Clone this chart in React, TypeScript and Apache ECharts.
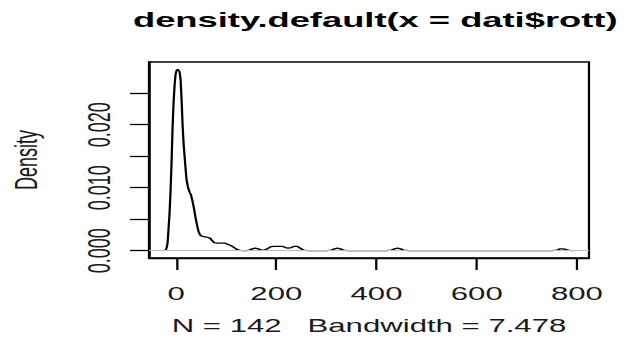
import React, { useEffect, useRef } from "react";
import * as echarts from "echarts";

// Kernel density estimate of dati$rott (N = 142, bw = 7.478)
const xs: number[] = [
  -21.5, -19, -17, -15, -13, -11, -9, -7, -5, -3, -1, 1, 3, 5, 7, 9, 11, 13, 15, 17, 19, 21,
  24, 27, 30, 33, 36, 39, 42, 45, 48, 52, 58, 64, 68, 72, 76, 82, 90, 98, 104, 110, 116, 122,
  128, 134, 140, 146, 152, 158, 164, 170, 176, 182, 188, 194, 200, 206, 212, 218, 224, 230,
  236, 242, 248, 254, 262, 300, 310, 316, 322, 328, 334, 342, 420, 430, 436, 442, 448, 454,
  464, 750, 760, 766, 772, 778, 784, 791.5,
];
const density: number[] = [
  0.00002, 0.0004, 0.0012, 0.0035, 0.006, 0.0095, 0.014, 0.0195, 0.0235, 0.0262, 0.028,
  0.0286, 0.0288, 0.0288, 0.0284, 0.0272, 0.024, 0.02, 0.017, 0.015, 0.013, 0.0112, 0.01,
  0.0093, 0.0088, 0.0078, 0.0066, 0.0052, 0.004, 0.003, 0.0025, 0.0023, 0.0022, 0.0021,
  0.002, 0.0016, 0.0013, 0.0012, 0.0012, 0.0012, 0.001, 0.0008, 0.0005, 0.0002, 0.00005,
  0.00001, 0.00002, 0.0001, 0.0003, 0.0004, 0.0003, 0.0001, 0.00008, 0.0003, 0.0006, 0.0007,
  0.0007, 0.0007, 0.0007, 0.0005, 0.0004, 0.0005, 0.0007, 0.0007, 0.0004, 0.0001, 0.00001,
  0.00001, 0.0001, 0.0003, 0.0004, 0.0003, 0.0001, 0.00001, 0.00001, 0.0001, 0.0003, 0.0004,
  0.0003, 0.0001, 0.00001, 0.00001, 0.0001, 0.0003, 0.0003, 0.0002, 0.00005, 0.00001,
];
const xTicks: number[] = [0, 200, 400, 600, 800];
const yTicks: number[] = [0, 0.005, 0.01, 0.015, 0.02, 0.025];
const yLabels: number[] = [0, 0.01, 0.02];

const titleText = "density.default(x = dati$rott)";
const xAxisTitle = "N = 142   Bandwidth = 7.478";
const yAxisTitle = "Density";

const WIDTH = 626;
const HEIGHT = 347;
const STRETCH = 1.73;
const INNER_W = WIDTH / STRETCH;
const FONT = "'Liberation Sans', Arial, Helvetica, sans-serif";
const TEXT_COLOR = "#1a1a1a";

export default function App() {
  const ref = useRef<HTMLDivElement>(null);

  useEffect(() => {
    if (!ref.current) return;
    const chart = echarts.init(ref.current, null, { renderer: "svg" });

    // R-style 4% padding around the data range
    const xPad = 0.04 * (xs[xs.length - 1] - xs[0]);
    const yMax = Math.max(...density);
    const yPad = 0.04 * yMax;

    const left = 149 / STRETCH;
    const right = 589 / STRETCH;

    chart.setOption({
      animation: false,
      backgroundColor: "#ffffff",
      title: {
        text: titleText,
        left: (left + right) / 2 - 1.4,
        textAlign: "center",
        top: 4,
        textStyle: { fontFamily: FONT, fontSize: 21, fontWeight: "bold", color: "#000" },
      },
      grid: {
        left,
        top: 62,
        width: right - left,
        height: 196,
        show: true,
        borderColor: "#000",
        borderWidth: 1.3,
        backgroundColor: "transparent",
        containLabel: false,
        outerBoundsMode: "none",
      },
      xAxis: {
        type: "value",
        min: xs[0] - xPad,
        max: xs[xs.length - 1] + xPad,
        name: xAxisTitle,
        nameLocation: "middle",
        nameGap: 59,
        nameTextStyle: { fontFamily: FONT, fontSize: 18, color: TEXT_COLOR },
        axisLine: { show: true, onZero: false, lineStyle: { color: "#000", width: 1.3 } },
        axisTick: {
          show: true,
          inside: false,
          length: 12,
          customValues: xTicks,
          lineStyle: { color: "#000", width: 1.3 },
        },
        axisLabel: {
          show: true,
          customValues: xTicks,
          margin: 27,
          fontFamily: FONT,
          fontSize: 18,
          color: TEXT_COLOR,
          formatter: (v: number) => String(v),
        },
        splitLine: { show: false },
      },
      yAxis: {
        type: "value",
        min: -yPad,
        max: yMax + yPad,
        name: yAxisTitle,
        nameLocation: "middle",
        nameRotate: 90,
        nameGap: 62,
        nameTextStyle: { fontFamily: FONT, fontSize: 18, color: TEXT_COLOR },
        axisLine: { show: true, onZero: false, lineStyle: { color: "#000", width: 1.3 } },
        axisTick: {
          show: true,
          inside: false,
          length: 11,
          customValues: yTicks,
          lineStyle: { color: "#000", width: 1.3 },
        },
        axisLabel: {
          show: true,
          customValues: yLabels,
          rotate: 90,
          margin: 20,
          fontFamily: FONT,
          fontSize: 18,
          color: TEXT_COLOR,
          formatter: (v: number) => v.toFixed(3),
        },
        splitLine: { show: false },
      },
      series: [
        {
          type: "line",
          data: xs.map((x, i) => [x, density[i]]),
          showSymbol: false,
          symbol: "none",
          clip: true,
          lineStyle: { color: "#000", width: 1.3 },
          markLine: {
            silent: true,
            symbol: "none",
            label: { show: false },
            lineStyle: { color: "#bebebe", width: 1, type: "solid" },
            data: [{ yAxis: 0 }],
          },
        },
      ],
    });

    return () => chart.dispose();
  }, []);

  return (
    <div
      style={{
        position: "fixed",
        left: 0,
        top: 0,
        width: WIDTH,
        height: HEIGHT,
        overflow: "hidden",
        background: "#fff",
      }}
    >
      <div
        ref={ref}
        style={{
          width: INNER_W,
          height: HEIGHT,
          transform: `scaleX(${STRETCH})`,
          transformOrigin: "0 0",
        }}
      />
    </div>
  );
}
